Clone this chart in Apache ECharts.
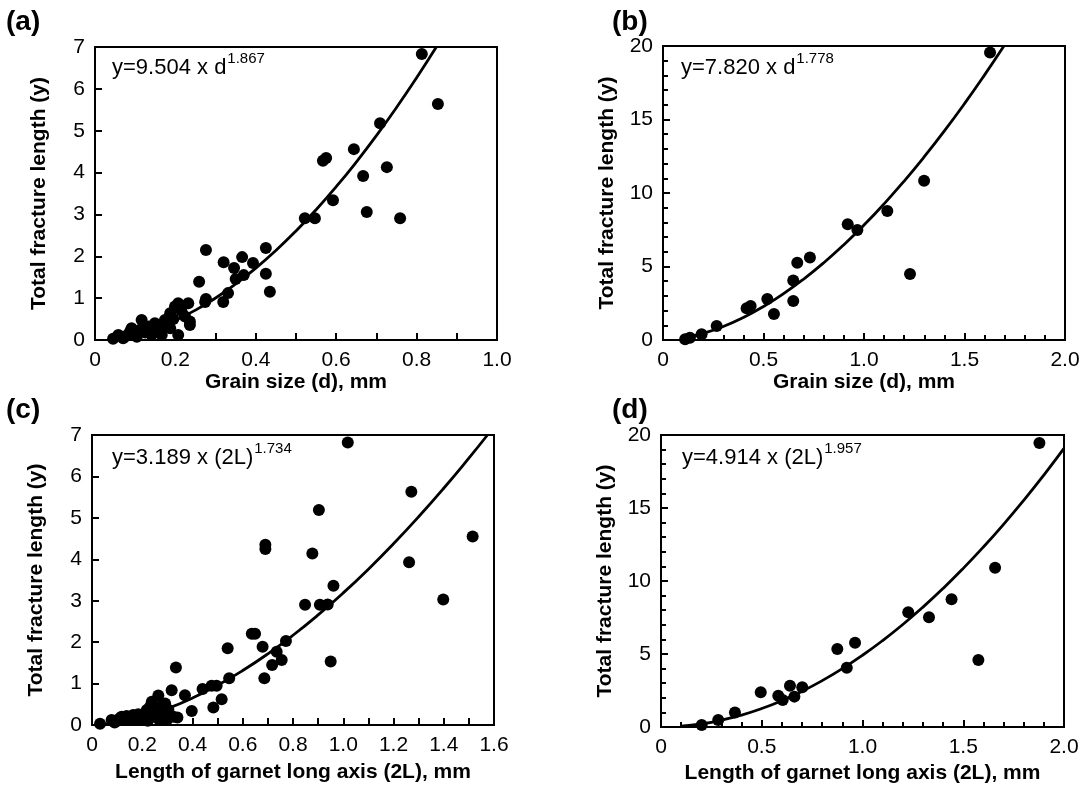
<!DOCTYPE html>
<html>
<head>
<meta charset="utf-8">
<script src="https://cdn.jsdelivr.net/npm/echarts@6/dist/echarts.min.js"></script>
<style>
html,body{margin:0;padding:0;background:#fff;}
#main{width:1085px;height:790px;}
</style>
</head>
<body>
<div id="main"></div>
<script>
// ---------- data ----------
const ptsA = [[0.045,0.03],[0.058,0.12],[0.07,0.04],[0.078,0.1],[0.087,0.2],[0.091,0.28],[0.1,0.15],[0.104,0.08],[0.112,0.24],[0.116,0.48],[0.125,0.18],[0.133,0.32],[0.141,0.12],[0.149,0.4],[0.155,0.22],[0.162,0.28],[0.166,0.12],[0.174,0.48],[0.18,0.36],[0.187,0.64],[0.187,0.28],[0.195,0.5],[0.199,0.8],[0.207,0.88],[0.207,0.12],[0.215,0.7],[0.224,0.56],[0.232,0.88],[0.236,0.44],[0.236,0.36],[0.274,0.91],[0.319,0.91],
  [0.259,1.39],[0.276,2.15],[0.276,0.98],[0.32,1.86],[0.331,1.12],[0.346,1.72],[0.35,1.46],[0.366,1.98],[0.37,1.55],[0.393,1.84],[0.425,2.2],[0.425,1.58],[0.435,1.15],
  [0.522,2.91],[0.547,2.91],[0.567,4.28],[0.575,4.35],[0.592,3.34],[0.644,4.56],[0.667,3.92],[0.676,3.06],[0.709,5.18],[0.726,4.13],[0.759,2.91],[0.813,6.83],[0.853,5.64]];
const fitA = [[0.05,0.035],[0.1,0.129],[0.15,0.275],[0.2,0.471],[0.25,0.714],[0.3,1.004],[0.35,1.339],[0.4,1.718],[0.45,2.14],[0.5,2.605],[0.55,3.113],[0.6,3.662],[0.65,4.252],[0.7,4.883],[0.75,5.555],[0.8,6.266],[0.849,7.0]];

const ptsB = [[0.11,0.05],[0.134,0.16],[0.192,0.39],[0.267,0.95],[0.416,2.16],[0.436,2.31],[0.519,2.79],[0.552,1.77],[0.648,2.65],[0.648,4.04],[0.668,5.26],[0.731,5.62],[0.919,7.87],[0.967,7.48],[1.116,8.78],[1.229,4.49],[1.299,10.84],[1.627,19.55]];
const fitB = [[0.1,0.13],[0.2,0.447],[0.3,0.919],[0.4,1.534],[0.5,2.28],[0.6,3.153],[0.7,4.148],[0.8,5.259],[0.9,6.484],[1.0,7.82],[1.1,9.264],[1.2,10.814],[1.3,12.468],[1.4,14.225],[1.5,16.08],[1.6,18.036],[1.696,20.0]];

const ptsC = [[0.032,0.03],[0.078,0.12],[0.09,0.06],[0.1,0.1],[0.11,0.16],[0.118,0.2],[0.128,0.12],[0.138,0.22],[0.15,0.12],[0.158,0.18],[0.164,0.24],[0.175,0.14],[0.184,0.26],[0.2,0.15],[0.211,0.22],[0.218,0.36],[0.222,0.1],[0.231,0.44],[0.238,0.56],[0.245,0.2],[0.25,0.3],[0.258,0.32],[0.264,0.71],[0.268,0.12],[0.271,0.44],[0.278,0.2],[0.285,0.3],[0.291,0.52],[0.298,0.12],[0.304,0.37],[0.317,0.84],[0.324,0.2],[0.34,0.18],
  [0.334,1.39],[0.37,0.72],[0.397,0.34],[0.44,0.87],[0.476,0.95],[0.483,0.42],[0.496,0.95],[0.516,0.62],[0.54,1.85],[0.546,1.13],[0.636,2.2],[0.649,2.2],[0.679,1.89],[0.686,1.13],[0.69,4.35],[0.69,4.25],[0.717,1.45],[0.735,1.77],[0.755,1.57],[0.772,2.03],
  [0.848,2.9],[0.877,4.14],[0.903,5.19],[0.907,2.9],[0.938,2.91],[0.95,1.53],[0.961,3.36],[1.018,6.82],[1.262,3.93],[1.271,5.63],[1.398,3.03],[1.515,4.55]];
const fitC = [[0.05,0.018],[0.1,0.059],[0.2,0.196],[0.3,0.395],[0.4,0.651],[0.5,0.959],[0.6,1.315],[0.7,1.718],[0.8,2.166],[0.9,2.657],[1.0,3.189],[1.1,3.762],[1.2,4.375],[1.3,5.026],[1.4,5.715],[1.5,6.441],[1.574,7.0]];

const ptsD = [[0.202,0.14],[0.284,0.48],[0.367,1.0],[0.495,2.38],[0.582,2.14],[0.604,1.85],[0.64,2.83],[0.662,2.08],[0.701,2.72],[0.875,5.34],[0.922,4.06],[0.963,5.77],[1.227,7.86],[1.33,7.51],[1.442,8.75],[1.575,4.59],[1.658,10.91],[1.878,19.45]];
const fitD = [[0.1,0.054],[0.2,0.211],[0.3,0.466],[0.4,0.818],[0.5,1.266],[0.6,1.808],[0.7,2.445],[0.8,3.175],[0.9,3.998],[1.0,4.914],[1.1,5.922],[1.2,7.021],[1.3,8.212],[1.4,9.493],[1.5,10.866],[1.6,12.328],[1.7,13.881],[1.8,15.524],[1.9,17.257],[2.0,19.08]];

const xLabelsA = ['0','0.2','0.4','0.6','0.8','1.0'];
const yLabelsA = ['0','1','2','3','4','5','6','7'];
const xLabelsB = ['0','0.5','1.0','1.5','2.0'];
const yLabelsB = ['0','5','10','15','20'];
const xLabelsC = ['0','0.2','0.4','0.6','0.8','1.0','1.2','1.4','1.6'];
const yLabelsC = ['0','1','2','3','4','5','6','7'];
const xLabelsD = ['0','0.5','1.0','1.5','2.0'];
const yLabelsD = ['0','5','10','15','20'];

const panelLabels = ['(a)','(b)','(c)','(d)'];
const equations = [['y=9.504 x d','1.867'],['y=7.820 x d','1.778'],['y=3.189 x (2L)','1.734'],['y=4.914 x (2L)','1.957']];
const xTitles = ['Grain size (d), mm','Grain size (d), mm','Length of garnet long axis (2L), mm','Length of garnet long axis (2L), mm'];
const yTitle = 'Total fracture length (y)';

// ---------- chart ----------
const FONT = '"Liberation Sans", Arial, Helvetica, sans-serif';
function fmt(labels, step){ return v => { const i = Math.round(v/step); return labels[i] !== undefined ? labels[i] : ''; }; }

function xAxis(idx, max, interval, minorSplit, labels, gap){
  return {
    type:'value', gridIndex: idx, min:0, max:max, interval:interval,
    name: xTitles[idx], nameLocation:'middle', nameGap: gap,
    nameTextStyle:{fontFamily:FONT, fontSize:21, fontWeight:'bold', color:'#000'},
    axisLine:{show:true, onZero:false, lineStyle:{color:'#000', width:2}},
    axisTick:{show:true, inside:true, length:7, lineStyle:{color:'#000', width:2}},
    minorTick:{show: minorSplit>1, splitNumber:minorSplit, length: idx===0||idx===2 ? 7 : 5, lineStyle:{color:'#000', width:2}},
    splitLine:{show:false},
    axisLabel:{formatter: fmt(labels, interval), fontFamily:FONT, fontSize:21, color:'#000', margin:10}
  };
}
function yAxis(idx, max, interval, minorSplit, labels){
  return {
    type:'value', gridIndex: idx, min:0, max:max, interval:interval,
    name: yTitle, nameLocation:'middle', nameGap: 45, nameRotate:90,
    nameTextStyle:{fontFamily:FONT, fontSize:21, fontWeight:'bold', color:'#000'},
    axisLine:{show:true, onZero:false, lineStyle:{color:'#000', width:2}},
    axisTick:{show:true, inside:true, length:7, lineStyle:{color:'#000', width:2}},
    minorTick:{show: minorSplit>1, splitNumber:minorSplit, length:5, lineStyle:{color:'#000', width:2}},
    splitLine:{show:false},
    axisLabel:{formatter: fmt(labels, interval), fontFamily:FONT, fontSize:21, color:'#000', margin:10}
  };
}

const grids = [
  {left:95, top:47, width:402, height:293},
  {left:663, top:46, width:402, height:294},
  {left:92, top:435, width:402, height:290},
  {left:661, top:435, width:403, height:292}
].map(g => Object.assign({show:true, borderColor:'#000', borderWidth:2, backgroundColor:'transparent'}, g));

const labelPos = [[6,8],[612,8],[6,396],[612,396]];
const eqPos = [[112,50],[681,50],[112,440],[682,440]];

const titles = [];
panelLabels.forEach((t,i)=>titles.push({text:t, left:labelPos[i][0], top:labelPos[i][1], padding:0,
  textStyle:{fontFamily:FONT, fontSize:28, fontWeight:'bold', color:'#000'}}));
equations.forEach((e,i)=>titles.push({text:'{m|'+e[0]+'}{s|'+e[1]+'}', left:eqPos[i][0], top:eqPos[i][1], padding:0,
  textStyle:{fontWeight:'normal', rich:{
    m:{fontFamily:FONT, fontSize:22, fontWeight:'normal', color:'#000', lineHeight:29, verticalAlign:'bottom'},
    s:{fontFamily:FONT, fontSize:15, fontWeight:'normal', color:'#000', lineHeight:29, verticalAlign:'top', padding:[1,0,0,1]}
  }}}));

function scatter(i, data){ return {type:'scatter', xAxisIndex:i, yAxisIndex:i, data:data, symbol:'circle', symbolSize:12, itemStyle:{color:'#000', opacity:1}, silent:true}; }
function fit(i, data){ return {type:'line', xAxisIndex:i, yAxisIndex:i, data:data, smooth:true, showSymbol:false, symbol:'none', clip:true, lineStyle:{color:'#000', width:2.8}, silent:true}; }

const option = {
  animation:false,
  backgroundColor:'#fff',
  title: titles,
  grid: grids,
  xAxis: [
    xAxis(0, 1.0, 0.2, 2, xLabelsA, 30),
    xAxis(1, 2.0, 0.5, 5, xLabelsB, 32),
    xAxis(2, 1.6, 0.2, 2, xLabelsC, 37),
    xAxis(3, 2.0, 0.5, 5, xLabelsD, 36)
  ],
  yAxis: [
    yAxis(0, 7, 1, 0, yLabelsA),
    yAxis(1, 20, 5, 5, yLabelsB),
    yAxis(2, 7, 1, 0, yLabelsC),
    yAxis(3, 20, 5, 5, yLabelsD)
  ],
  series: [
    fit(0, fitA), scatter(0, ptsA),
    fit(1, fitB), scatter(1, ptsB),
    fit(2, fitC), scatter(2, ptsC),
    fit(3, fitD), scatter(3, ptsD)
  ]
};
const chart = echarts.init(document.getElementById('main'), null, {renderer:'canvas'});
chart.setOption(option);
</script>
</body>
</html>
